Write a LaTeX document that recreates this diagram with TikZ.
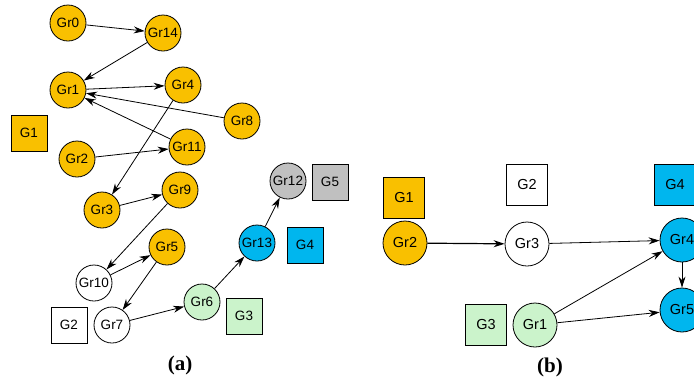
\documentclass[tikz,border=0pt]{standalone}
\usepackage{fontspec}
\setmainfont{Liberation Serif}
\newfontfamily\grfont{Liberation Sans}
\usetikzlibrary{arrows.meta}
\definecolor{gold}{HTML}{F9C000}
\definecolor{sky}{HTML}{00B6EE}
\definecolor{mint}{HTML}{CBF3CB}
\definecolor{ash}{HTML}{C0C0C0}
\begin{document}
\begin{tikzpicture}[x=1pt,y=-1pt,
	gr/.style={circle,draw,line width=0.8pt,minimum size=36pt,inner sep=0pt,font=\grfont\fontsize{13.5}{15}\selectfont},
	grb/.style={gr,minimum size=44pt,font=\grfont\fontsize{14.5}{16}\selectfont},
	grp/.style={draw,line width=0.8pt,minimum size=36pt,inner sep=0pt,font=\grfont\fontsize{13.5}{15}\selectfont},
	grpb/.style={grp,minimum size=41pt,font=\grfont\fontsize{14.5}{16}\selectfont},
	link/.style={-{Stealth[length=11pt,width=7pt]},line width=0.8pt},
	sublabel/.style={font=\bfseries\fontsize{21}{24}\selectfont}]
	\clip (0,0) rectangle (694,384);
	\fill[white] (0,0) rectangle (694,384);
	% (a)
	\node[gr,fill=gold] (gr0) at (68,23) {Gr0};
	\node[gr,fill=gold] (gr14) at (163,33) {Gr14};
	\node[gr,fill=gold] (gr1) at (68,90) {Gr1};
	\node[gr,fill=gold] (gr4) at (183,85) {Gr4};
	\node[gr,fill=gold] (gr8) at (242,121) {Gr8};
	\node[grp,fill=gold] (g1) at (29,133) {G1};
	\node[gr,fill=gold] (gr11) at (187,147) {Gr11};
	\node[gr,fill=gold] (gr2) at (77,159) {Gr2};
	\node[gr,fill=gold] (gr9) at (180,190) {Gr9};
	\node[gr,fill=gold] (gr3) at (102,210) {Gr3};
	\node[gr,fill=gold] (gr5) at (167,247) {Gr5};
	\node[gr] (gr10) at (94,283) {Gr10};
	\node[gr] (gr7) at (112,325) {Gr7};
	\node[grp] (g2) at (69,325) {G2};
	\node[gr,fill=mint] (gr6) at (202,302) {Gr6};
	\node[grp,fill=mint] (g3) at (244,316) {G3};
	\node[gr,fill=sky] (gr13) at (257,243) {Gr13};
	\node[grp,fill=sky] (g4) at (305,245) {G4};
	\node[gr,fill=ash] (gr12) at (288,181) {Gr12};
	\node[grp,fill=ash] (g5) at (330,182) {G5};
	\node[sublabel] (capa) at (180,365) {(a)};
	\draw[link] (gr0) -- (gr14);
	\draw[link] (gr14) -- (gr1);
	\draw[link] (gr1) -- (gr4);
	\draw[link] (gr8) -- (gr1);
	\draw[link] (gr11) -- (gr1);
	\draw[link] (gr2) -- (gr11);
	\draw[link] (gr4) -- (gr3);
	\draw[link] (gr3) -- (gr9);
	\draw[link] (gr9) -- (gr10);
	\draw[link] (gr10) -- (gr5);
	\draw[link] (gr5) -- (gr7);
	\draw[link] (gr7) -- (gr6);
	\draw[link] (gr6) -- (gr13);
	\draw[link] (gr13) -- (gr12);
	% (b)
	\node[grpb,fill=gold] (b1) at (404,198) {G1};
	\node[grb,fill=gold] (br2) at (405,243) {Gr2};
	\node[grpb] (b2) at (527,185) {G2};
	\node[grb] (br3) at (527,244) {Gr3};
	\node[grpb,fill=sky] (b4) at (675,185) {G4};
	\node[grb,fill=sky] (br4) at (682,240) {Gr4};
	\node[grb,fill=sky] (br5) at (682,310) {Gr5};
	\node[grpb,fill=mint] (b3) at (486,325) {G3};
	\node[grb,fill=mint] (br1) at (535,325) {Gr1};
	\node[sublabel] (capb) at (550,367) {(b)};
	\draw[link,line width=1.2pt] (br2) -- (br3);
	\draw[link] (br3) -- (br4);
	\draw[link] (br1) -- (br4);
	\draw[link] (br1) -- (br5);
	\draw[link] (br4) -- (br5);
\end{tikzpicture}
\end{document}
